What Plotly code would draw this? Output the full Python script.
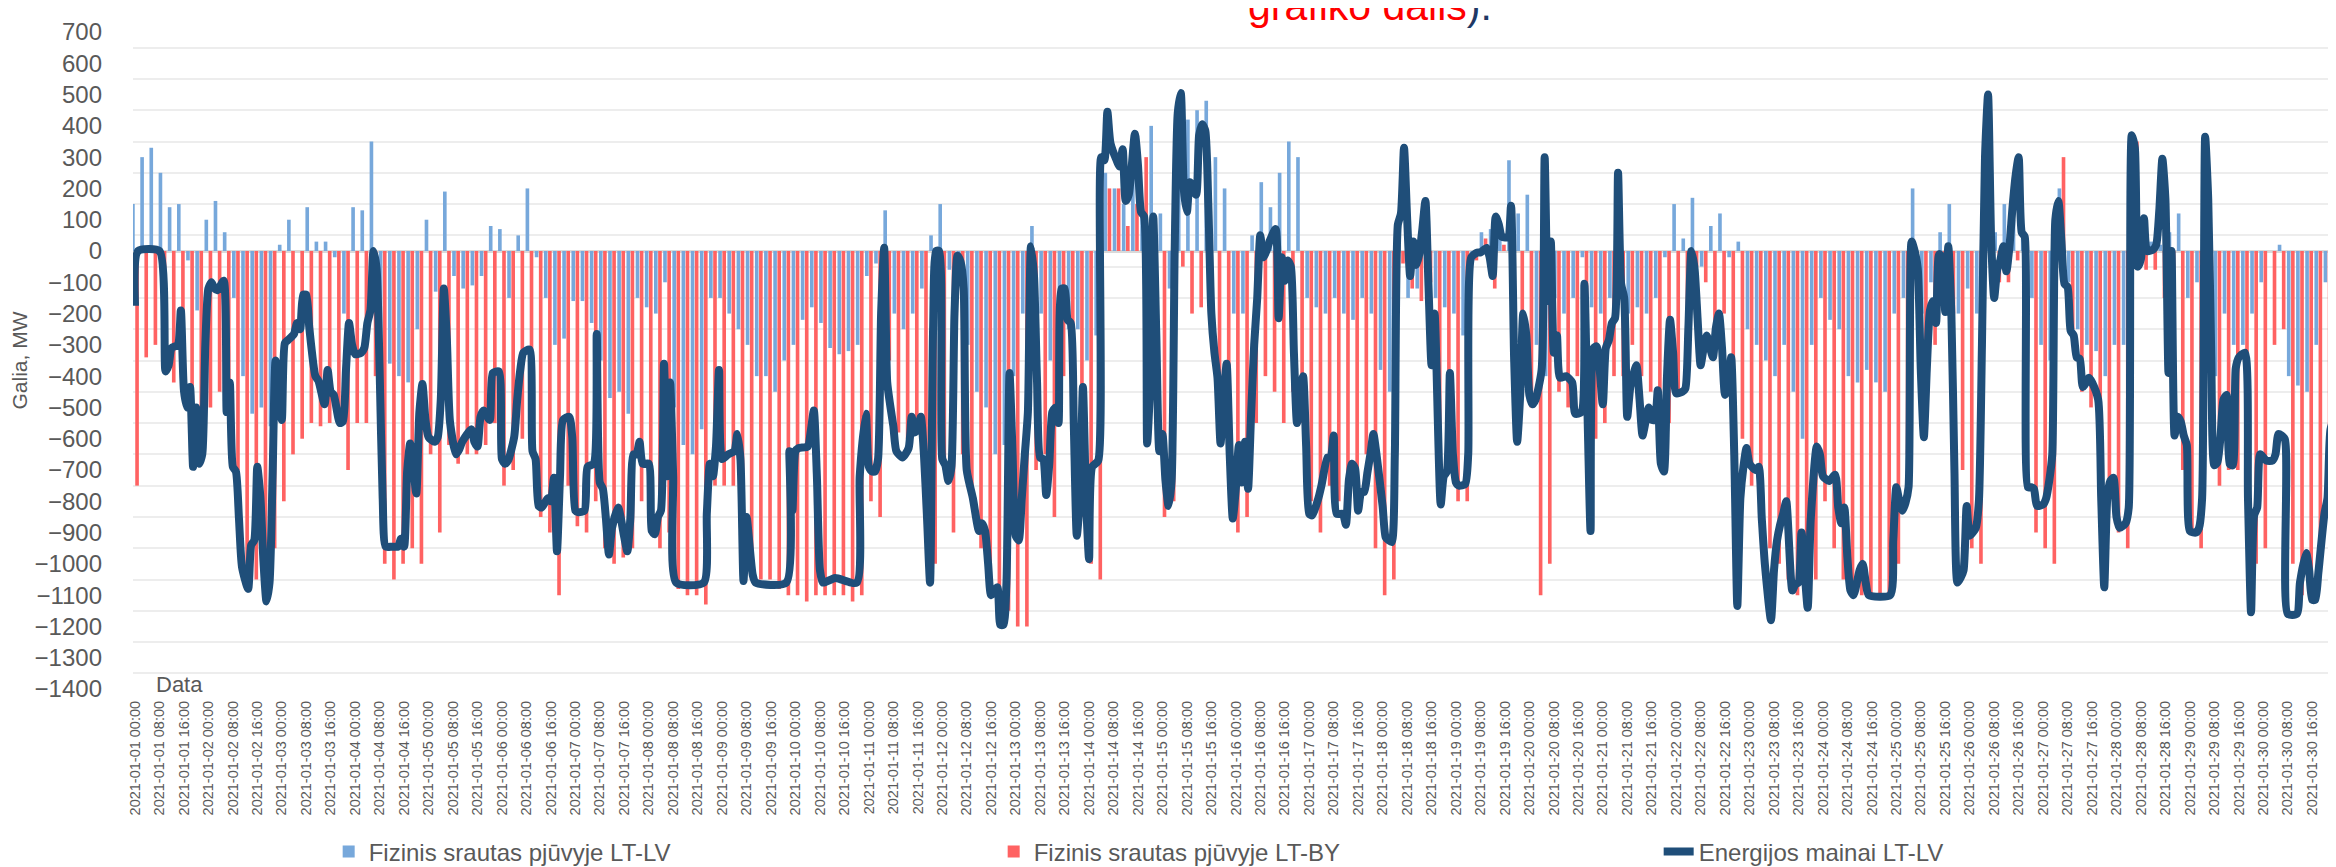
import plotly.graph_objects as go
import pandas as pd

# ---------------- data (MW) ----------------
# bars: 3-hour samples starting 2021-01-01 00:00 (hour index)
bar_hours = list(range(0, 724, 3))
blue_mw = [  # Fizinis srautas pjuvyje LT-LV
    150, 300, 330, 250, 140, 150, -30, -190, 100, 160, 60, -150, -400, -520, -500, -560, 20, 100, 0, 140,
    30, 30, -20, -200, 140, 130, 350, -330, -360, -400, -420, -250, 100, -130, 190, -80, -120, -110, -80, 80, 70,
    -150, 50, 200, -20, -150, -300, -280, -160, -160, -230, -350, -470, -450, -520, -150, -180, -200, -100, -500, -620,
    -650, -570, -150, -150, -200, -250, -300, -400, -400, -450, -350, -300, -220, -180, -230, -310, -330, -320, -300, -80,
    -40, 130, -200, -250, -200, -120, 50, 150, -60, -50, -300, -450, -500, -650, -620, -400, -200, 80, -200, -350,
    -200, -250, -250, -350, -270, 250, 200, 150, 300, 150, 400, 120, -120, 450, 420, 450, 480, 300, 200, -200,
    -200, 50, 220, 140, 250, 350, 300, -150, -180, -200, -150, -200, -220, -150, -200, -380, -450, 20, -150, -120,
    -50, -150, -180, -200, -270, -20, 60, 70, 80, 290, 120, 180, -300, -400, -150, -200, -150, -20, -180, -200, -150,
    20, -200, -180, -200, -150, -20, 150, 40, 170, -50, 80, 120, -20, 30, -250, -300, -350, -400, -300, -450,
    -600, -300, -150, -220, -250, -400, -420, -380, -420, -450, -200, -150, 200, -200, -100, 60, 150, -200, -120, -200,
    270, 60, 150, 100, 40, -150, -300, -350, 200, -100, -250, -300, -320, -400, -300, -300, 100, 50, 30, 20,
    60, 120, -150, -100, 200, -400, -200, -300, -300, -200, -100, 0, 20, -400, -430, -450, -300, -100, -30, -100,
]
red_mw = [  # Fizinis srautas pjuvyje LT-BY
    -750, -340, -300, -330, -420, -430, -480, -650, -500, -450, -500, -700, -1000, -1050, -1100, -950, -800, -650, -600, -550,
    -560, -550, -520, -700, -550, -550, -400, -1000, -1050, -1000, -950, -1000, -650, -900, -620, -680, -650, -650, -620, -550, -750,
    -700, -600, -600, -850, -900, -1100, -750, -880, -900, -800, -950, -1000, -980, -950, -800, -780, -950, -900, -1080, -1100,
    -1100, -1130, -750, -750, -750, -1000, -1050, -1050, -1050, -1080, -1100, -1100, -1120, -1100, -1100, -1100, -1100, -1120, -1100, -800,
    -850, -350, -580, -600, -550, -650, -1000, -700, -900, -650, -750, -950, -1100, -1200, -1150, -1200, -1200, -700, -650, -850,
    -400, -300, -850, -1000, -1050, 200, 200, 80, 150, 300, -400, -850, -800, -50, -200, -180, -120, -400, -550, -900,
    -850, -550, -400, -450, -550, -450, -550, -800, -900, -750, -800, -850, -750, -650, -950, -1100, -1050, -40, -120, -160,
    -100, -600, -700, -800, -800, -30, 40, -120, 20, 100, -300, -500, -1100, -1000, -450, -500, -400, -300, -600, -550, -400,
    -400, -300, -400, -450, -500, -550, -450, -350, -50, -100, -250, -200, -400, -600, -750, -850, -950, -1000, -1050, -1100,
    -1100, -1050, -800, -950, -1050, -1100, -1100, -1100, -1100, -1100, -1000, -650, -50, -550, -300, -150, -200, -700, -950, -1000,
    500, -100, -100, -30, -400, -900, -950, -1000, 300, -250, -450, -500, -700, -750, -900, -950, 350, -60, -60, -150,
    -250, -700, -900, -950, -300, -750, -700, -700, -750, -1000, -950, -300, -250, -1000, -1100, -1100, -1000, -800, -700, -700,
]

# line: Energijos mainai LT-LV, points (hour index, MW)
line_hours = [
    0, 1, 8, 10, 11, 12, 14, 15, 16, 17, 18, 19, 20, 21, 22, 23, 24, 25, 26, 27, 29, 30, 31, 32, 33, 34, 35, 37, 38, 39,
    40, 41, 42, 43, 44, 45, 46, 48, 49, 50, 52, 53, 54, 55, 56, 57, 59, 60, 62, 63, 64, 65, 67, 68, 69, 70, 71, 72, 74, 75,
    76, 77, 78, 79, 80, 81, 82, 84, 86, 87, 88, 89, 90, 91, 92, 93, 94, 95, 96, 98, 99, 100, 101, 102, 103, 105, 106, 107, 110, 111,
    112, 113, 114, 116, 117, 119, 120,
    121, 122, 124, 125, 126, 127, 129, 130, 131, 132, 133, 135, 136, 137, 138, 139, 140, 142, 143, 144,
    145, 147, 148, 150, 151, 152, 153, 154, 155, 156, 158, 160, 161, 162, 163, 164, 165, 166, 168, 169,
    170, 171, 172, 173, 174, 175, 176, 177, 186, 187, 188, 189, 190, 191, 192, 194, 196, 197, 198, 199,
    200, 202, 203, 213, 214, 215, 216, 217, 220, 221, 222, 223, 224, 225, 229, 236, 237, 239, 240,
    241, 242, 243, 244, 245, 246, 247, 248, 249, 251, 253, 254, 255, 256, 257, 258, 259, 260, 261, 262,
    263, 264, 265, 266, 267, 268, 269, 270, 271, 272, 274, 276, 277, 278, 279, 280, 282, 283, 284, 285,
    286, 287, 288, 289, 290, 291, 292, 293, 294, 295, 296, 297, 298, 299, 300, 301, 302, 303, 304, 305,
    306, 307, 308, 309, 310, 311, 312, 313, 315, 316, 317, 318, 319, 321, 322, 323, 324, 325, 327, 328,
    329, 330, 331, 332, 333, 334, 335, 336, 337, 338, 339, 340, 341, 342, 343, 344, 345, 347, 348, 349,
    350, 351, 352, 353, 354, 355, 356, 357, 358, 359, 360,
    361, 362, 363, 364, 365, 366, 367, 368, 369, 370, 371, 373, 374, 375, 376, 377, 378, 379, 380, 381,
    382, 383, 384, 385, 387, 388, 390, 391, 392, 393, 395, 396, 397, 398, 399, 400, 401, 402, 403, 404,
    405, 406, 408, 409, 410, 411, 412, 413, 414, 415, 416, 417, 418, 419, 420, 421, 422, 423, 424, 425,
    427, 428, 429, 430, 431, 432, 433, 435, 436, 437, 439, 440, 442, 443, 444, 445, 446, 447, 449, 450,
    451, 452, 453, 454, 455, 456, 457, 458, 460, 461, 462, 463, 464, 465, 466, 468, 470, 471, 473, 474,
    475, 476, 477, 478, 480, 481, 482, 483,
    484, 485, 486, 487, 488, 489, 490, 491, 492, 493, 494, 495, 496, 497, 498, 499, 500, 501, 502, 503,
    504, 506, 507, 508, 509, 510, 511, 512, 513, 514, 516, 517, 518, 519, 520, 521, 522, 523, 524, 525,
    526, 527, 528, 530, 531, 532, 533, 535, 536, 537, 538, 539, 540, 542, 543, 544, 545, 547, 548, 550,
    551, 552, 554, 556, 557, 558, 559, 560, 561, 562, 564, 565, 566, 567, 574, 575, 576, 577, 578, 579,
    580, 581, 582, 583, 584, 585, 586, 587, 588, 589, 590, 591, 592, 593, 594, 595, 596, 597, 598, 599,
    600, 601, 602, 603,
    604, 605, 606, 607, 608, 609, 610, 611, 612, 613, 614, 615, 616, 617, 618, 619, 620, 621, 622, 624,
    625, 626, 627, 628, 629, 630, 631, 632, 633, 634, 635, 636, 637, 639, 640, 642, 643, 644, 645, 646,
    647, 648, 649, 651, 652, 653, 654, 655, 656, 657, 658, 660, 661, 662, 663, 664, 665, 666, 667, 668,
    669, 670, 671, 672, 674, 675, 676, 677, 678, 679, 680, 681, 682, 683, 684, 685, 686, 687, 688, 690,
    691, 692, 693, 694, 695, 697, 699, 700, 701, 703, 704, 707, 708, 710, 711, 712, 713, 714, 716, 717,
    718, 720, 721, 722, 723,
]
line_mw = [
    -175, 0, 0, -385, -365, -310, -300, -190, -445, -500, -435, -690, -500, -680, -650, -300, -120, -100, -120, -125,
    -95, -515, -420, -690, -705, -855, -1010, -1080, -940, -925, -690, -785, -990, -1120, -1060, -720, -350, -540, -295, -285,
    -265, -230, -250, -140, -140, -245, -400, -415, -490, -380, -450, -460, -550, -545, -380, -230, -300, -330, -325, -310,
    -230, -190, 0, -55, -380, -790, -945, -945, -945, -920, -945, -705, -615, -690, -775, -515, -425, -540, -595, -610,
    -595, -475, -120, -285, -545, -650, -635, -610, -570, -610, -625, -530, -510, -540, -390, -385, -665,
    -680, -670, -595, -475, -380, -325, -315, -640, -665, -815, -820, -790, -800, -725, -960, -720, -540, -530, -595, -830,
    -835, -830, -690, -680, -265, -740, -760, -855, -970, -885, -820, -915, -960, -855, -650, -650, -610, -680, -680, -895,
    -905, -850, -830, -360, -720, -420, -720, -1060, -1060, -840, -680, -720, -625, -380, -665, -650, -640, -585, -665, -1055,
    -850, -1035, -1060, -1060, -640, -830, -640, -630, -625, -575, -510, -720, -1020, -1060, -1045, -1060, -720, -520, -690,
    -705, -705, -665, -200, 10, -420, -495, -560, -640, -660, -630, -530, -580, -570, -530, -650, -850, -1060, -250, 0,
    0, -665, -685, -735, -690, -200, -15, -35, -120, -700, -790, -895, -870, -895, -1000, -1100, -1075, -1195, -1195, -1060,
    -390, -650, -910, -925, -790, -650, -515, 15, -80, -420, -660, -665, -780, -680, -515, -500, -550, -120, -120, -220,
    -230, -550, -910, -790, -435, -790, -985, -690, -670, 300, 290, 445, 345, 290, 270, 325, 160, 180, 375, 275,
    125, 110, -615, -420, 110, -270, -640, -585, -735, -815, -735, 0, 440, 505, 195, 125, 220, 180, 370, 405,
    385, 150, -200, -325, -405, -615, -475, -360, -650, -855, -760,
    -620, -740, -610, -760, -520, -300, -150, 50, -20, 0, 30, 70, -215, -20, -95, -30, -50, -325, -550, -460,
    -400, -625, -840, -845, -790, -750, -660, -660, -590, -840, -840, -875, -730, -680, -695, -830, -770, -770, -710, -650,
    -585, -650, -815, -915, -925, -930, -650, 85, 120, 330, 110, -80, 30, -45, -10, 70, 160, -110, -365, -200,
    -810, -720, -705, -390, -650, -740, -750, -745, -650, -20, -5, -5, 10, -20, -80, 110, 85, 45, 45, 145,
    -340, -610, -460, -200, -270, -460, -490, -475, -380, 300, -160, 30, -325, -270, -405, -400, -420, -520, -515, -105,
    -515, -895, -310, -305, -490, -310, -285, -230,
    -215, 250, -105, -150, -530, -435, -395, -365, -470, -590, -545, -500, -540, -540, -445, -680, -705, -400, -220, -325,
    -455, -450, -440, -245, 0, -55, -215, -365, -310, -270, -340, -245, -200, -310, -460, -435, -340, -650, -1135, -790,
    -690, -630, -680, -700, -690, -855, -1000, -1180, -1020, -925, -875, -840, -800, -1085, -1065, -1060, -900, -1140, -860, -625,
    -650, -720, -735, -715, -820, -870, -820, -980, -1085, -1100, -1020, -1000, -1060, -1100, -1100, -925, -755, -800, -830, -805,
    -755, 30, 0, -55, -380, -595, -370, -190, -160, -230, -10, -20, -195, 15, -200, -700, -1060, -1045, -1020, -815,
    -910, -900, -885, -800,
    -300, 300, 500, 40, -150, -60, -30, 15, -65, 15, 140, 240, 300, 60, 45, -755, -755, -760, -815, -810,
    -790, -735, -650, 100, 160, 30, -105, -115, -255, -270, -340, -345, -435, -405, -420, -475, -790, -1075, -790, -735,
    -725, -850, -885, -870, -820, 370, 330, -50, -25, 105, 0, 5, 20, 130, 295, 165, -390, 0, -590, -530,
    -545, -590, -620, -895, -900, -885, -790, 365, 165, -340, -685, -675, -595, -475, -460, -680, -685, -375, -340, -325,
    -790, -1155, -845, -820, -650, -670, -670, -650, -585, -600, -1160, -1160, -1060, -965, -1020, -1115, -1115, -1030, -840, -790,
    -570, -515, -600, -680, -700,
]
assert len(blue_mw) == len(bar_hours) == len(red_mw)
assert len(line_hours) == len(line_mw)

# x tick labels every 8 hours
tick_hours = list(range(0, 721, 8))
tick_labels = [(pd.Timestamp("2021-01-01") + pd.Timedelta(hours=h)).strftime("%Y-%m-%d %H:%M")
               for h in tick_hours]
y_ticks = list(range(-1400, 701, 100))

FONT = "Liberation Sans, Arial, sans-serif"
GREY = "#595959"

fig = go.Figure()
fig.add_trace(go.Bar(name="Fizinis srautas pjūvyje LT-LV", x=bar_hours, y=blue_mw,
                     marker=dict(color="#77A8DB", line=dict(width=0))))
fig.add_trace(go.Bar(name="Fizinis srautas pjūvyje LT-BY", x=bar_hours, y=red_mw,
                     marker=dict(color="#FF6262", line=dict(width=0))))
fig.add_trace(go.Scatter(name="Energijos mainai LT-LV", x=line_hours, y=line_mw, mode="lines",
                         line=dict(color="#1F4E79", width=8, shape="spline", smoothing=0.6)))

fig.update_layout(
    width=2336, height=867,
    margin=dict(l=125, r=0, t=24, b=176),
    paper_bgcolor="white", plot_bgcolor="white",
    font=dict(family=FONT, color=GREY),
    barmode="group", bargap=0.1, bargroupgap=0.12,
    showlegend=True,
    legend=dict(orientation="h", x=0.0885, xanchor="left", y=-0.248, yanchor="middle",
                entrywidth=620, entrywidthmode="pixels",
                font=dict(family=FONT, size=24, color=GREY), bgcolor="rgba(0,0,0,0)"),
    xaxis=dict(range=[-0.65, 722.4], tickmode="array", tickvals=tick_hours, ticktext=tick_labels,
               tickangle=-90, tickfont=dict(family=FONT, size=14.5, color=GREY),
               showgrid=False, zeroline=False, showline=False, ticks="", ticklabelstandoff=8),
    yaxis=dict(range=[-1400, 700], tickmode="array", tickvals=y_ticks,
               tickfont=dict(family=FONT, size=24, color=GREY), ticklabelstandoff=30,
               showgrid=False, zeroline=True, zerolinecolor="#D9D9D9", zerolinewidth=3,
               minor=dict(tick0=50, dtick=100, showgrid=True, gridcolor="#EDEDED", gridwidth=2, ticks=""),
               title=dict(text="Galia, MW", font=dict(family=FONT, size=21, color=GREY), standoff=12)),
    annotations=[
        dict(text='<span style="color:#FF0000">grafiko dalis</span><span style="color:#1F3864">).</span>',
             xref="paper", yref="paper", x=(1238 - 125) / 2211, y=1.040, xanchor="left", yanchor="middle",
             showarrow=False, font=dict(family=FONT, size=41)),
        dict(text="Data", xref="paper", yref="paper", x=(146 - 125) / 2211, y=0.0075,
             xanchor="left", yanchor="middle", showarrow=False,
             font=dict(family=FONT, size=22, color=GREY)),
    ],
)

fig.write_html("out.html")
